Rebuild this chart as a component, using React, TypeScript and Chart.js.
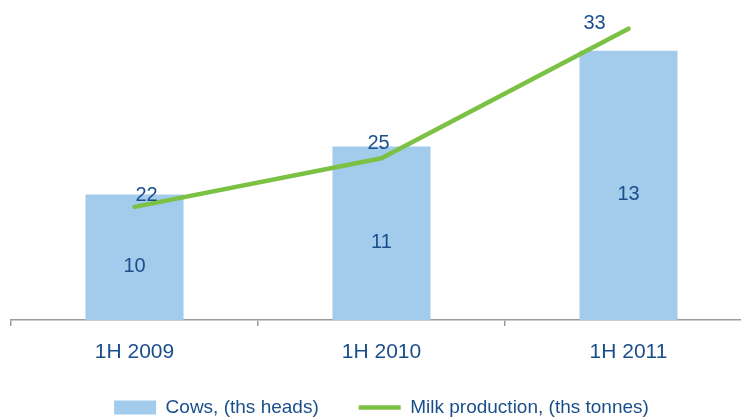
import React, { useEffect, useRef } from "react";
import { Chart, registerables } from "chart.js";

Chart.register(...registerables);

// ---- data ----
const categories = ["1H 2009", "1H 2010", "1H 2011"];
const cows = [10, 11, 13];
const milk = [22, 25, 33];
const seriesNames = ["Cows, (ths heads)", "Milk production, (ths tonnes)"];

// ---- styles ----
const TEXT = "#1B4F8C";
const BAR = "#A2CBEC";
const LINE = "#7BC143";
const AXIS = "#9C9C9C";
const FONT = "'Liberation Sans', Arial, sans-serif";
const lineLabelOffsets: [number, number][] = [
  [12, -11],
  [-3, -15],
  [-34, -5],
];
const barLabelOffset = 9;

const valueLabels = {
  id: "valueLabels",
  afterDatasetsDraw(chart: any) {
    const ctx = chart.ctx;
    const bottom = chart.chartArea.bottom;
    ctx.save();
    ctx.fillStyle = TEXT;
    ctx.font = `20px ${FONT}`;
    ctx.textAlign = "center";
    ctx.textBaseline = "middle";
    chart.getDatasetMeta(0).data.forEach((el: any, i: number) => {
      const p = el.getProps(["x", "y"], true);
      ctx.fillText(String(cows[i]), p.x, (p.y + bottom) / 2 + barLabelOffset);
    });
    chart.getDatasetMeta(1).data.forEach((el: any, i: number) => {
      const p = el.getProps(["x", "y"], true);
      ctx.fillText(String(milk[i]), p.x + lineLabelOffsets[i][0], p.y + lineLabelOffsets[i][1]);
    });
    ctx.restore();
  },
};

export default function App() {
  const ref = useRef<HTMLCanvasElement>(null);
  useEffect(() => {
    if (!ref.current) return;
    const chart = new Chart(ref.current, {
      type: "bar",
      data: {
        labels: categories,
        datasets: [
          {
            type: "bar",
            label: seriesNames[0],
            data: cows,
            backgroundColor: BAR,
            yAxisID: "y",
            order: 1,
            categoryPercentage: 1,
            barPercentage: 0.397,
          },
          {
            type: "line",
            label: seriesNames[1],
            data: milk,
            borderColor: LINE,
            backgroundColor: LINE,
            borderWidth: 4.5,
            borderCapStyle: "round",
            borderJoinStyle: "round",
            pointRadius: 0,
            tension: 0,
            yAxisID: "y1",
            order: 0,
          },
        ],
      },
      options: {
        responsive: false,
        animation: false,
        devicePixelRatio: 1,
        layout: { padding: { left: 11, right: 8, top: 0, bottom: -8 } },
        plugins: {
          tooltip: { enabled: false },
          legend: {
            position: "bottom",
            labels: {
              color: TEXT,
              font: { size: 19, family: FONT },
              usePointStyle: true,
              pointStyleWidth: 42,
              boxHeight: 14,
              padding: 40,
              generateLabels: () => [
                {
                  text: seriesNames[0],
                  pointStyle: "rect",
                  fillStyle: BAR,
                  strokeStyle: BAR,
                  lineWidth: 0,
                  fontColor: TEXT,
                  datasetIndex: 0,
                },
                {
                  text: seriesNames[1],
                  pointStyle: "line",
                  fillStyle: LINE,
                  strokeStyle: LINE,
                  lineWidth: 4.5,
                  fontColor: TEXT,
                  datasetIndex: 1,
                },
              ],
            },
          },
        },
        scales: {
          x: {
            afterFit: (scale: any) => {
              scale.height = 38;
            },
            grid: {
              display: true,
              drawOnChartArea: false,
              drawTicks: true,
              tickLength: 6,
              color: AXIS,
              offset: true,
              lineWidth: 1.5,
            },
            border: { display: true, color: AXIS, width: 1.5 },
            ticks: { color: TEXT, font: { size: 21, family: FONT }, padding: 14 },
          },
          y: { display: false, min: 7.38, max: 14.06 },
          y1: { display: false, min: 15.02, max: 34.77 },
        },
      },
      plugins: [valueLabels],
    });
    return () => chart.destroy();
  }, []);
  return (
    <div style={{ position: "absolute", left: 0, top: 0, width: 741, height: 419, overflow: "hidden", background: "#fff" }}>
      <canvas ref={ref} width={760} height={419} style={{ display: "block" }} />
    </div>
  );
}
